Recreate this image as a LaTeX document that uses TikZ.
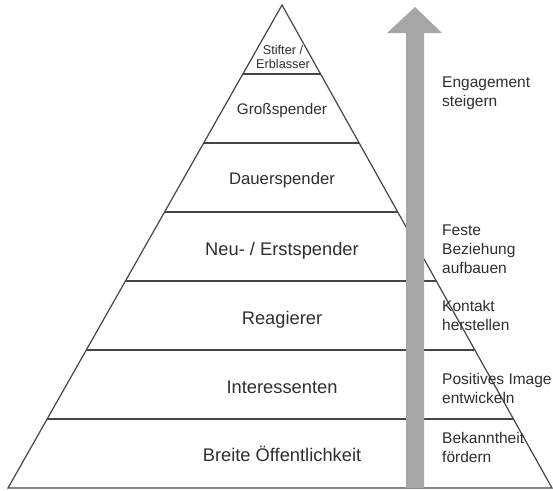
\documentclass[tikz,border=0pt]{standalone}
\usepackage{fontspec}
\setmainfont{Liberation Sans}
\definecolor{linegray}{HTML}{454545}
\definecolor{arrowgray}{HTML}{A6A6A6}
\definecolor{textgray}{HTML}{2E2E2E}
\begin{document}
\begin{tikzpicture}[x=1pt, y=-1pt,
    layer/.style={text=textgray, inner sep=0pt, anchor=base},
    goal/.style={text=textgray, inner sep=0pt, anchor=north west, align=left,
        font=\fontsize{15.5}{19}\selectfont}]
\useasboundingbox (0, 0) rectangle (553, 490);

\draw[line width=1.2pt, linegray]
    (282, 5) -- (8, 488) -- (552, 488) -- cycle;
\draw[line width=1.2pt, linegray]
    (242.86, 74) -- (320.57, 74);
\draw[line width=1.2pt, linegray]
    (203.71, 143) -- (359.14, 143);
\draw[line width=1.2pt, linegray]
    (164.57, 212) -- (397.71, 212);
\draw[line width=1.2pt, linegray]
    (125.43, 281) -- (436.29, 281);
\draw[line width=1.2pt, linegray]
    (86.29, 350) -- (474.86, 350);
\draw[line width=1.2pt, linegray]
    (47.14, 419) -- (513.43, 419);

% Pfeil
\fill[arrowgray]
    (406, 488) -- (406, 33) -- (387, 33) -- (415, 7) -- (442, 33)
    -- (424, 33) -- (424, 488) -- cycle;

\node[layer, anchor=center, align=center, font=\fontsize{12.7}{14}\selectfont]
    (stifter) at (283, 56.5) {Stifter /\\Erblasser};
\node[layer, font=\fontsize{15.3}{18}\selectfont] (gross) at (282, 114) {Großspender};
\node[layer, font=\fontsize{16.7}{20}\selectfont] (dauer) at (282, 184) {Dauerspender};
\node[layer, font=\fontsize{18.3}{22}\selectfont] (neu) at (282, 255) {Neu- / Erstspender};
\node[layer, font=\fontsize{18.3}{22}\selectfont] (reag) at (282, 324) {Reagierer};
\node[layer, font=\fontsize{18.3}{22}\selectfont] (inter) at (282, 393) {Interessenten};
\node[layer, font=\fontsize{18.3}{22}\selectfont] (breite) at (282, 461) {Breite Öffentlichkeit};

\node[goal] (engagement) at (442, 77) {Engagement\\steigern};
\node[goal] (beziehung) at (442, 225) {Feste\\Beziehung\\aufbauen};
\node[goal] (kontakt) at (442, 300) {Kontakt\\herstellen};
\node[goal] (image) at (442, 373) {Positives Image\\entwickeln};
\node[goal] (bekannt) at (442, 432) {Bekanntheit\\fördern};
\end{tikzpicture}
\end{document}
